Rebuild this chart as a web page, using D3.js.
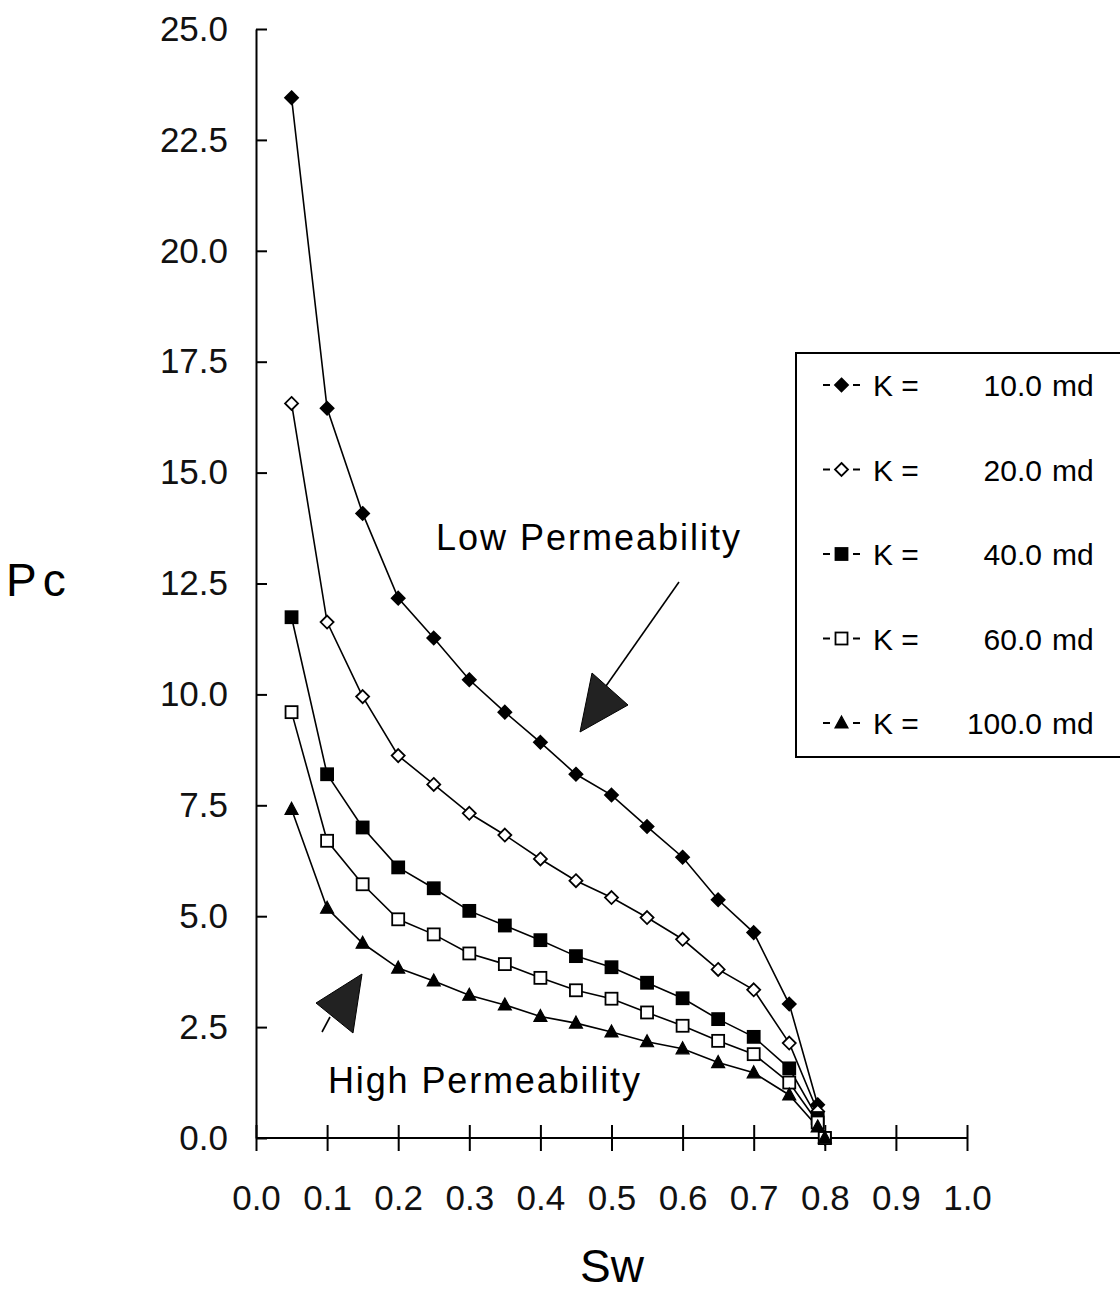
<!DOCTYPE html>
<html>
<head>
<meta charset="utf-8">
<script src="https://cdn.jsdelivr.net/npm/d3@7"></script>
<style>
  body { margin: 0; background: #fff; }
  svg { display: block; font-family: "Liberation Sans", Arial, sans-serif; }
  .eje path, .eje line { stroke: #000; stroke-width: 2px; }
  .eje text { font-size: 35px; fill: #111; }
</style>
</head>
<body>
<div id="graf"></div>
<script>
// I. Datos
sw = [0.05, 0.10, 0.15, 0.20, 0.25, 0.30, 0.35, 0.40, 0.45, 0.50, 0.55, 0.60, 0.65, 0.70, 0.75, 0.79, 0.80]
k10  = [23.45, 16.45, 14.08, 12.17, 11.27, 10.33, 9.60, 8.92, 8.20, 7.73, 7.02, 6.33, 5.37, 4.63, 3.02, 0.75, 0]
k20  = [16.56, 11.63, 9.95, 8.62, 7.97, 7.32, 6.83, 6.29, 5.80, 5.42, 4.97, 4.48, 3.80, 3.34, 2.14, 0.60, 0]
k40  = [11.74, 8.20, 7.00, 6.10, 5.63, 5.12, 4.79, 4.46, 4.10, 3.85, 3.50, 3.15, 2.68, 2.28, 1.57, 0.45, 0]
k60  = [9.60, 6.70, 5.72, 4.93, 4.59, 4.16, 3.92, 3.61, 3.33, 3.14, 2.83, 2.53, 2.19, 1.89, 1.25, 0.35, 0]
k100 = [7.41, 5.18, 4.39, 3.83, 3.54, 3.22, 3.00, 2.74, 2.59, 2.39, 2.17, 2.01, 1.70, 1.47, 0.97, 0.25, 0]

nombres = ['K =   10.0 md', 'K =   20.0 md', 'K =   40.0 md', 'K =   60.0 md', 'K = 100.0 md']
valoresK = ['10.0', '20.0', '40.0', '60.0', '100.0']
simbolos = ['diamante', 'diamanteVacio', 'cuadro', 'cuadroVacio', 'triangulo']

xTicks = [0, 0.1, 0.2, 0.3, 0.4, 0.5, 0.6, 0.7, 0.8, 0.9, 1.0]
yTicks = [0, 2.5, 5, 7.5, 10, 12.5, 15, 17.5, 20, 22.5, 25]

series = [k10, k20, k40, k60, k100].map((vals, i) => ({
  nombre: nombres[i],
  k: valoresK[i],
  simbolo: simbolos[i],
  puntos: sw.map((s, j) => ({ sw: s, pc: vals[j] }))
}))

// II. Configuracion
ancho_total = 1120
alto_total = 1294

svg = d3.select('#graf').append('svg')
        .attr('width', ancho_total)
        .attr('height', alto_total)

x = d3.scaleLinear().domain([0, 1]).range([256, 967])
y = d3.scaleLinear().domain([0, 25]).range([1138, 29])

// ejes (ticks cruzando la linea)
xAxisCall = d3.axisBottom(x)
              .tickValues(xTicks)
              .tickSizeInner(13)
              .tickSizeOuter(0)
              .tickPadding(34)
              .tickFormat(d3.format('.1f'))
xAxisGroup = svg.append('g')
                .attr('class', 'eje')
                .attr('transform', `translate(0, ${ y(0) })`)
                .call(xAxisCall)
xAxisGroup.selectAll('.tick line').attr('y1', -13)
xAxisGroup.select('.domain').attr('d', `M${ x(0) },0H${ x(1) }`)

yAxisCall = d3.axisLeft(y)
              .tickValues(yTicks)
              .tickSizeInner(11)
              .tickSizeOuter(0)
              .tickPadding(17)
              .tickFormat(d3.format('.1f'))
yAxisGroup = svg.append('g')
                .attr('class', 'eje')
                .attr('transform', `translate(${ x(0) }, 0)`)
                .call(yAxisCall)
yAxisGroup.selectAll('.tick line').attr('x2', 11)

// titulos
svg.append('text')
   .attr('x', 6).attr('y', 596)
   .style('font-size', '46px')
   .style('letter-spacing', '6px')
   .text('Pc')
svg.append('text')
   .attr('x', 612).attr('y', 1282)
   .attr('text-anchor', 'middle')
   .style('font-size', '46px')
   .text('Sw')

// III. simbolos
function marca(sel, tipo) {
  var r = 6.5
  if (tipo === 'diamante' || tipo === 'diamanteVacio') {
    sel.append('path')
       .attr('d', `M0,${ -r }L${ r },0L0,${ r }L${ -r },0Z`)
       .attr('fill', tipo === 'diamante' ? '#000' : '#fff')
       .attr('stroke', '#000').attr('stroke-width', 1.8)
  } else if (tipo === 'cuadro' || tipo === 'cuadroVacio') {
    sel.append('rect')
       .attr('x', -6).attr('y', -6).attr('width', 12).attr('height', 12)
       .attr('fill', tipo === 'cuadro' ? '#000' : '#fff')
       .attr('stroke', '#000').attr('stroke-width', 1.8)
  } else {
    sel.append('path')
       .attr('d', 'M0,-7L6.5,5L-6.5,5Z')
       .attr('fill', '#000')
       .attr('stroke', '#000').attr('stroke-width', 1.2)
  }
}

linea = d3.line().x(d => x(d.sw)).y(d => y(d.pc))

g = svg.append('g')
g.selectAll('path.curva')
 .data(series)
 .enter()
 .append('path')
   .attr('class', 'curva')
   .attr('d', d => linea(d.puntos))
   .attr('fill', 'none')
   .attr('stroke', '#000')
   .attr('stroke-width', 1.6)

series.forEach(s => {
  g.selectAll(null)
   .data(s.puntos)
   .enter()
   .append('g')
     .attr('transform', d => `translate(${ x(d.sw) }, ${ y(d.pc) })`)
     .each(function() { marca(d3.select(this), s.simbolo) })
})

// IV. leyenda
leyenda = svg.append('g')
leyenda.append('rect')
       .attr('x', 796).attr('y', 353)
       .attr('width', 340).attr('height', 404)
       .attr('fill', '#fff')
       .attr('stroke', '#000').attr('stroke-width', 2)

items = leyenda.selectAll('g.item')
               .data(series)
               .enter()
               .append('g')
                 .attr('class', 'item')
                 .attr('transform', (d, i) => `translate(0, ${ 385 + i * 84.5 })`)

items.append('line').attr('x1', 823).attr('x2', 830).attr('stroke', '#000').attr('stroke-width', 2)
items.append('line').attr('x1', 853).attr('x2', 860).attr('stroke', '#000').attr('stroke-width', 2)
items.append('g')
     .attr('transform', 'translate(841.5, 0)')
     .each(function(d) { marca(d3.select(this), d.simbolo) })
items.append('text')
     .attr('x', 873).attr('y', 11)
     .style('font-size', '30px')
     .text('K  =')
items.append('text')
     .attr('x', 1042).attr('y', 11)
     .attr('text-anchor', 'end')
     .style('font-size', '30px')
     .text(d => d.k)
items.append('text')
     .attr('x', 1052).attr('y', 11)
     .style('font-size', '30px')
     .text('md')

// V. anotaciones
svg.append('text')
   .attr('x', 436).attr('y', 550)
   .attr('textLength', 304).attr('lengthAdjust', 'spacing')
   .style('font-size', '36px')
   .text('Low Permeability')
svg.append('text')
   .attr('x', 328).attr('y', 1093)
   .attr('textLength', 312).attr('lengthAdjust', 'spacing')
   .style('font-size', '36px')
   .text('High Permeability')

flechas = svg.append('g').attr('stroke', '#000')
flechas.append('line').attr('x1', 679).attr('y1', 582).attr('x2', 606).attr('y2', 686).attr('stroke-width', 1.6)
flechas.append('path').attr('d', 'M592,673L628,705L580,732Z').attr('fill', '#222')
flechas.append('line').attr('x1', 330).attr('y1', 1017).attr('x2', 322).attr('y2', 1032).attr('stroke-width', 1.6)
flechas.append('path').attr('d', 'M362,974L316,1003L353,1033Z').attr('fill', '#222')
</script>
</body>
</html>
